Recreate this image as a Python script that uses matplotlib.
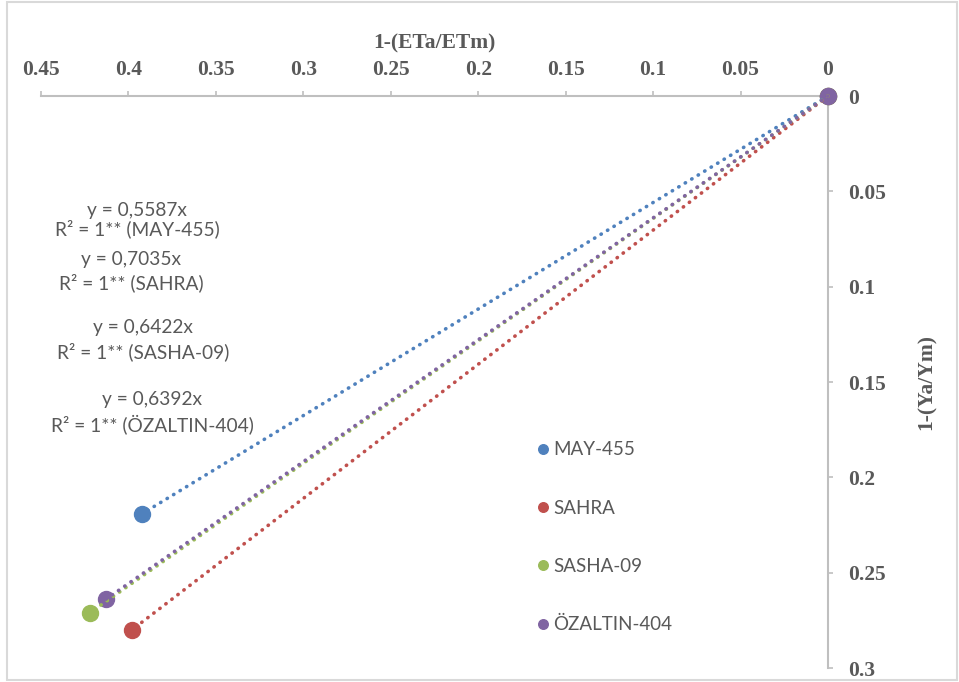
import matplotlib.pyplot as plt
import numpy as np
from matplotlib.patches import Rectangle
from matplotlib.ticker import FuncFormatter, MultipleLocator

# Veriler: 1-(ETa/ETm) ve 1-(Ya/Ym)
cultivars = ['MAY-455', 'SAHRA', 'SASHA-09', 'ÖZALTIN-404']
colors = ['#4F81BD', '#C0504D', '#9BBB59', '#8064A2']
et_deficit = [[0.0, 0.392], [0.0, 0.398], [0.0, 0.422], [0.0, 0.413]]
yield_deficit = [[0.0, 0.219], [0.0, 0.280], [0.0, 0.271], [0.0, 0.264]]
equations = ['y = 0,5587x', 'y = 0,7035x', 'y = 0,6422x', 'y = 0,6392x']
r2_labels = ['R² = 1** (MAY-455)', 'R² = 1** (SAHRA)',
             'R² = 1** (SASHA-09)', 'R² = 1** (ÖZALTIN-404)']

W, H = 959, 682
fig = plt.figure(figsize=(W / 100, H / 100), dpi=100)
ax = fig.add_axes([41 / W, 1 - 668 / H, (828 - 41) / W, (668 - 96) / H])

gray = '#595959'
spine_c = '#BFBFBF'
serif = 'Liberation Serif'
sans = 'Lato'

# noktalar
for name, c, xs, ys in zip(cultivars, colors, et_deficit, yield_deficit):
    ax.plot(xs, ys, 'o', color=c, markersize=11.5, label=name, zorder=3,
            clip_on=False)

# orijinden geçen doğrusal eğilim çizgileri
for c, xs, ys in zip(colors, et_deficit, yield_deficit):
    xs = np.array(xs)
    ys = np.array(ys)
    slope = np.sum(xs * ys) / np.sum(xs * xs)
    xx = np.linspace(0, xs.max(), 100)
    ax.plot(xx, slope * xx, color=c, linewidth=2.6, linestyle=(0, (0.1, 2.0)),
            dash_capstyle='round', zorder=4, clip_on=False)

ax.set_xlim(0.45, 0)
ax.set_ylim(0.3, 0)
ax.xaxis.set_major_locator(MultipleLocator(0.05))
ax.yaxis.set_major_locator(MultipleLocator(0.05))
fmt = FuncFormatter(lambda v, p: '%g' % round(v, 3))
ax.xaxis.set_major_formatter(fmt)
ax.yaxis.set_major_formatter(fmt)

ax.xaxis.tick_top()
ax.yaxis.tick_right()
ax.xaxis.set_label_position('top')
ax.yaxis.set_label_position('right')
for s in ['left', 'bottom']:
    ax.spines[s].set_visible(False)
for s in ['top', 'right']:
    ax.spines[s].set_color(spine_c)
    ax.spines[s].set_linewidth(1.5)
ax.tick_params(direction='out', length=3.6, width=1.2, color=spine_c,
               labelcolor=gray, labelsize=15.5)
ax.tick_params(axis='x', pad=8)
ax.tick_params(axis='y', pad=11)
for lab in ax.get_xticklabels() + ax.get_yticklabels():
    lab.set_fontfamily(serif)
    lab.set_fontweight('bold')

ax.set_xlabel('1-(ETa/ETm)', fontsize=15.5, fontweight='bold', family=serif,
              color=gray, labelpad=8)
ax.set_ylabel('1-(Ya/Ym)', fontsize=15.5, fontweight='bold', family=serif,
              color=gray, labelpad=22)

# denklem metinleri (piksel konumları)
eq_pos = [(137, 211, 229), (131, 259, 283), (143, 327, 352), (152, 399, 424)]
for (cx, y1, y2), eq, r2 in zip(eq_pos, equations, r2_labels):
    fig.text(cx / W, 1 - y1 / H, eq, ha='center', va='center', fontsize=13.8,
             family=sans, color=gray)
    fig.text(cx / W, 1 - y2 / H, r2, ha='center', va='center', fontsize=13.8,
             family=sans, color=gray)

leg = ax.legend(loc='upper left', bbox_to_anchor=(528 / W, 1 - 432 / H),
                bbox_transform=fig.transFigure, frameon=False,
                prop={'family': sans, 'size': 13.5}, markerscale=0.6,
                handlelength=0.55, handletextpad=0.3, labelspacing=2.2,
                borderpad=0)
for t in leg.get_texts():
    t.set_color(gray)

# grafik alanı çerçevesi
fig.patches.append(Rectangle((7 / W, 2 / H), (957 - 7) / W, (680 - 2) / H,
                             transform=fig.transFigure, fill=False,
                             edgecolor='#D9D9D9', linewidth=1.5))

fig.savefig('out.png', dpi=100)
